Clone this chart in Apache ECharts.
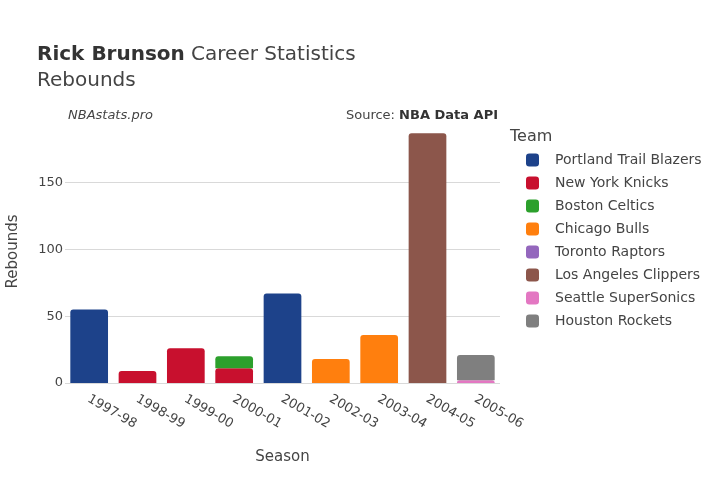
<!DOCTYPE html>
<html>
<head>
<meta charset="utf-8">
<script src="https://cdn.jsdelivr.net/npm/echarts@6/dist/echarts.min.js"></script>
<style>
  html, body { margin: 0; padding: 0; background: #fff; }
  #chart { width: 720px; height: 480px; }
</style>
</head>
<body>
<div id="chart"></div>
<script>
// seasons on the x axis
const seasons = ['1997-98', '1998-99', '1999-00', '2000-01', '2001-02', '2002-03', '2003-04', '2004-05', '2005-06'];
const teams = ['Portland Trail Blazers', 'New York Knicks', 'Boston Celtics', 'Chicago Bulls', 'Toronto Raptors', 'Los Angeles Clippers', 'Seattle SuperSonics', 'Houston Rockets'];
const teamColors = ['#1d428a', '#c8102e', '#2ca02c', '#ff7f0e', '#9467bd', '#8c564b', '#e377c2', '#7f7f7f'];

// rebounds per team per season (null = did not play there)
const portland = [55, null, null, null, 67, null, null, null, null];
const knicks   = [null, 9, 26, 11, null, null, null, null, null];
const celtics  = [null, null, null, 9, null, null, null, null, null];
const bulls    = [null, null, null, null, null, 18, 36, null, null];
const raptors  = [null, null, null, null, null, null, 0, null, null];
const clippers = [null, null, null, null, null, null, null, 187, null];
const sonics   = [null, null, null, null, null, null, null, null, 2];
const rockets  = [null, null, null, null, null, null, null, null, 19];

const yTicks = [0, 50, 100, 150];

let seriesData = [portland, knicks, celtics, bulls, raptors, clippers, sonics, rockets];
let font = 'DejaVu Sans';

let chart = echarts.init(document.getElementById('chart'), null, { renderer: 'canvas' });

let series = teams.map((name, i) => ({
  name: name,
  type: 'bar',
  stack: 'season',
  barCategoryGap: '22%',
  itemStyle: { color: teamColors[i], borderRadius: [3, 3, 0, 0] },
  data: seriesData[i]
}));

chart.setOption({
  animation: false,
  textStyle: { fontFamily: font },
  title: [
    {
      left: 32, top: 40,
      text: '{b|Rick Brunson} {n|Career Statistics}',
      textStyle: {
        rich: {
          b: { fontSize: 20, fontWeight: 'bold', color: '#333', fontFamily: font },
          n: { fontSize: 20, fontWeight: 'normal', color: '#444', fontFamily: font }
        }
      }
    },
    { left: 32, top: 66, text: 'Rebounds', textStyle: { fontSize: 20, fontWeight: 'normal', color: '#444', fontFamily: font } },
    { left: 63, top: 104, text: 'NBAstats.pro', textStyle: { fontSize: 13, fontStyle: 'italic', fontWeight: 'normal', color: '#444', fontFamily: font } },
    {
      right: 217, top: 104,
      text: 'Source: {b|NBA Data API}',
      textStyle: {
        fontSize: 13, fontWeight: 'normal', color: '#444', fontFamily: font,
        rich: { b: { fontSize: 13, fontWeight: 'bold', color: '#333', fontFamily: font } }
      }
    },
    { left: 505, top: 124, text: 'Team', textStyle: { fontSize: 16, fontWeight: 'normal', color: '#444', fontFamily: font } }
  ],
  legend: {
    orient: 'vertical',
    left: 521, top: 148,
    itemWidth: 13, itemHeight: 13, itemGap: 9,
    icon: 'roundRect',
    textStyle: { fontSize: 14, color: '#444', fontFamily: font, padding: [0, 0, 0, 11] },
    data: teams
  },
  grid: { left: 65, right: 220, top: 120, bottom: 97, outerBoundsMode: 'none' },
  xAxis: {
    type: 'category',
    data: seasons,
    name: 'Season',
    nameLocation: 'middle',
    nameGap: 67,
    nameTextStyle: { fontSize: 15, color: '#444', fontFamily: font },
    axisLine: { show: false },
    axisTick: { show: false },
    axisLabel: { rotate: -30, fontSize: 13, color: '#444', margin: 8, align: 'left', verticalAlign: 'top', fontFamily: font, padding: [0, 0, 0, 3] }
  },
  yAxis: {
    type: 'value',
    min: 0, max: 197, interval: 50,
    name: 'Rebounds',
    nameLocation: 'middle',
    nameGap: 44,
    nameTextStyle: { fontSize: 15, color: '#444', fontFamily: font },
    axisLine: { show: false },
    axisTick: { show: false },
    axisLabel: {
      fontSize: 13, color: '#444', margin: 2, fontFamily: font,
      formatter: v => yTicks.includes(v) ? String(v) : ''
    },
    splitLine: { showMaxLine: false, lineStyle: { color: '#d9d9d9' } }
  },
  series: series
});
</script>
</body>
</html>
